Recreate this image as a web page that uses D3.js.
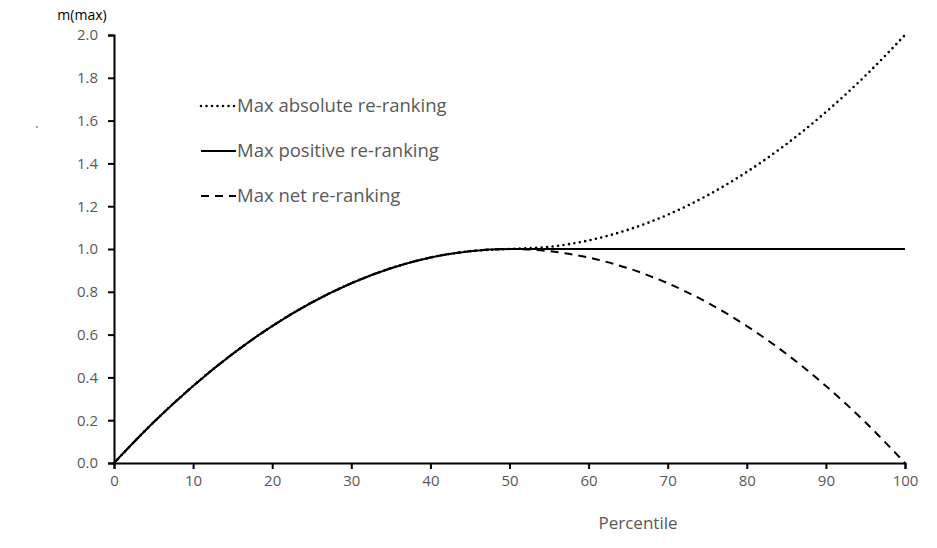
<!DOCTYPE html>
<html>
<head>
<meta charset="utf-8">
<script src="https://cdn.jsdelivr.net/npm/d3@7"></script>
<style>
  html, body { margin: 0; padding: 0; background: #fff; }
  svg { display: block; font-family: "Open Sans", Lato, sans-serif; }
</style>
</head>
<body>
<div id="chart"></div>
<script>
// values, every 5 percentiles
const percentiles = [0, 5, 10, 15, 20, 25, 30, 35, 40, 45, 50, 55, 60, 65, 70, 75, 80, 85, 90, 95, 100];
const maxAbsolute = [0, 0.19, 0.36, 0.51, 0.64, 0.75, 0.84, 0.91, 0.96, 0.99, 1.0, 1.01, 1.04, 1.09, 1.16, 1.25, 1.36, 1.49, 1.64, 1.81, 2.0];
const maxPositive = [0, 0.19, 0.36, 0.51, 0.64, 0.75, 0.84, 0.91, 0.96, 0.99, 1.0, 1.0, 1.0, 1.0, 1.0, 1.0, 1.0, 1.0, 1.0, 1.0, 1.0];
const maxNet = [0, 0.19, 0.36, 0.51, 0.64, 0.75, 0.84, 0.91, 0.96, 0.99, 1.0, 0.99, 0.96, 0.91, 0.84, 0.75, 0.64, 0.51, 0.36, 0.19, 0.0];
const xTicks = [0, 10, 20, 30, 40, 50, 60, 70, 80, 90, 100];
const yTicks = [0, 0.2, 0.4, 0.6, 0.8, 1.0, 1.2, 1.4, 1.6, 1.8, 2.0];
const seriesNames = ["Max absolute re-ranking", "Max positive re-ranking", "Max net re-ranking"];

const width = 937, height = 548;
const margin = { top: 35, right: 32, bottom: 85, left: 114 };
const innerW = width - margin.left - margin.right;
const innerH = height - margin.top - margin.bottom;

const svg = d3.select("#chart").append("svg")
  .attr("width", width)
  .attr("height", height);

const g = svg.append("g")
  .attr("transform", `translate(${margin.left},${margin.top})`);

const x = d3.scaleLinear().domain([0, 100]).range([0, innerW]);
const y = d3.scaleLinear().domain([0, 2]).range([innerH, 0]);

const series = [
  { name: seriesNames[0], values: maxAbsolute, dash: "0,5.5", cap: "round", sw: 2.6 },
  { name: seriesNames[1], values: maxPositive, dash: null, cap: "butt", sw: 2 },
  { name: seriesNames[2], values: maxNet, dash: "8,6", cap: "butt", sw: 2 }
];

const line = d3.line()
  .x(d => x(d[0]))
  .y(d => y(d[1]))
  .curve(d3.curveMonotoneX);

series.forEach(s => {
  g.append("path")
    .datum(percentiles.map((p, i) => [p, s.values[i]]))
    .attr("fill", "none")
    .attr("stroke", "#000")
    .attr("stroke-width", s.sw)
    .attr("stroke-linecap", s.cap)
    .attr("stroke-dasharray", s.dash)
    .attr("d", line);
});

// Axes
const xAxis = g.append("g")
  .attr("transform", `translate(0,${innerH})`)
  .call(d3.axisBottom(x).tickValues(xTicks).tickSize(6).tickPadding(6).tickFormat(d3.format("d")));

const yAxis = g.append("g")
  .call(d3.axisLeft(y).tickValues(yTicks).tickSize(6).tickPadding(10).tickFormat(d3.format(".1f")));

[xAxis, yAxis].forEach(ax => {
  ax.select(".domain").attr("stroke", "#000").attr("stroke-width", 2);
  ax.selectAll(".tick line").attr("stroke", "#000").attr("stroke-width", 2);
  ax.selectAll(".tick text")
    .attr("fill", "#595959")
    .attr("font-size", "15px")
    .attr("font-family", "'Open Sans', Lato, sans-serif");
});

// Axis titles
svg.append("text")
  .attr("x", 82)
  .attr("y", 20)
  .attr("text-anchor", "middle")
  .attr("font-size", "14px")
  .attr("fill", "#000")
  .text("m(max)");

svg.append("text")
  .attr("x", 638)
  .attr("y", 529)
  .attr("text-anchor", "middle")
  .attr("font-size", "17px")
  .attr("fill", "#595959")
  .text("Percentile");

// Legend
const legend = svg.append("g").attr("transform", "translate(201,106)");
series.forEach((s, i) => {
  const row = legend.append("g").attr("transform", `translate(0,${i * 45})`);
  row.append("line")
    .attr("x1", 0).attr("x2", 35)
    .attr("y1", 0).attr("y2", 0)
    .attr("stroke", "#000")
    .attr("stroke-width", s.sw)
    .attr("stroke-linecap", s.cap)
    .attr("stroke-dasharray", s.dash);
  row.append("text")
    .attr("x", 36)
    .attr("y", 6)
    .attr("font-size", "18.5px")
    .attr("fill", "#595959")
    .text(s.name);
});

// stray mark in the source image
svg.append("circle")
  .attr("cx", 37).attr("cy", 127).attr("r", 0.9)
  .attr("fill", "#777");
</script>
</body>
</html>
